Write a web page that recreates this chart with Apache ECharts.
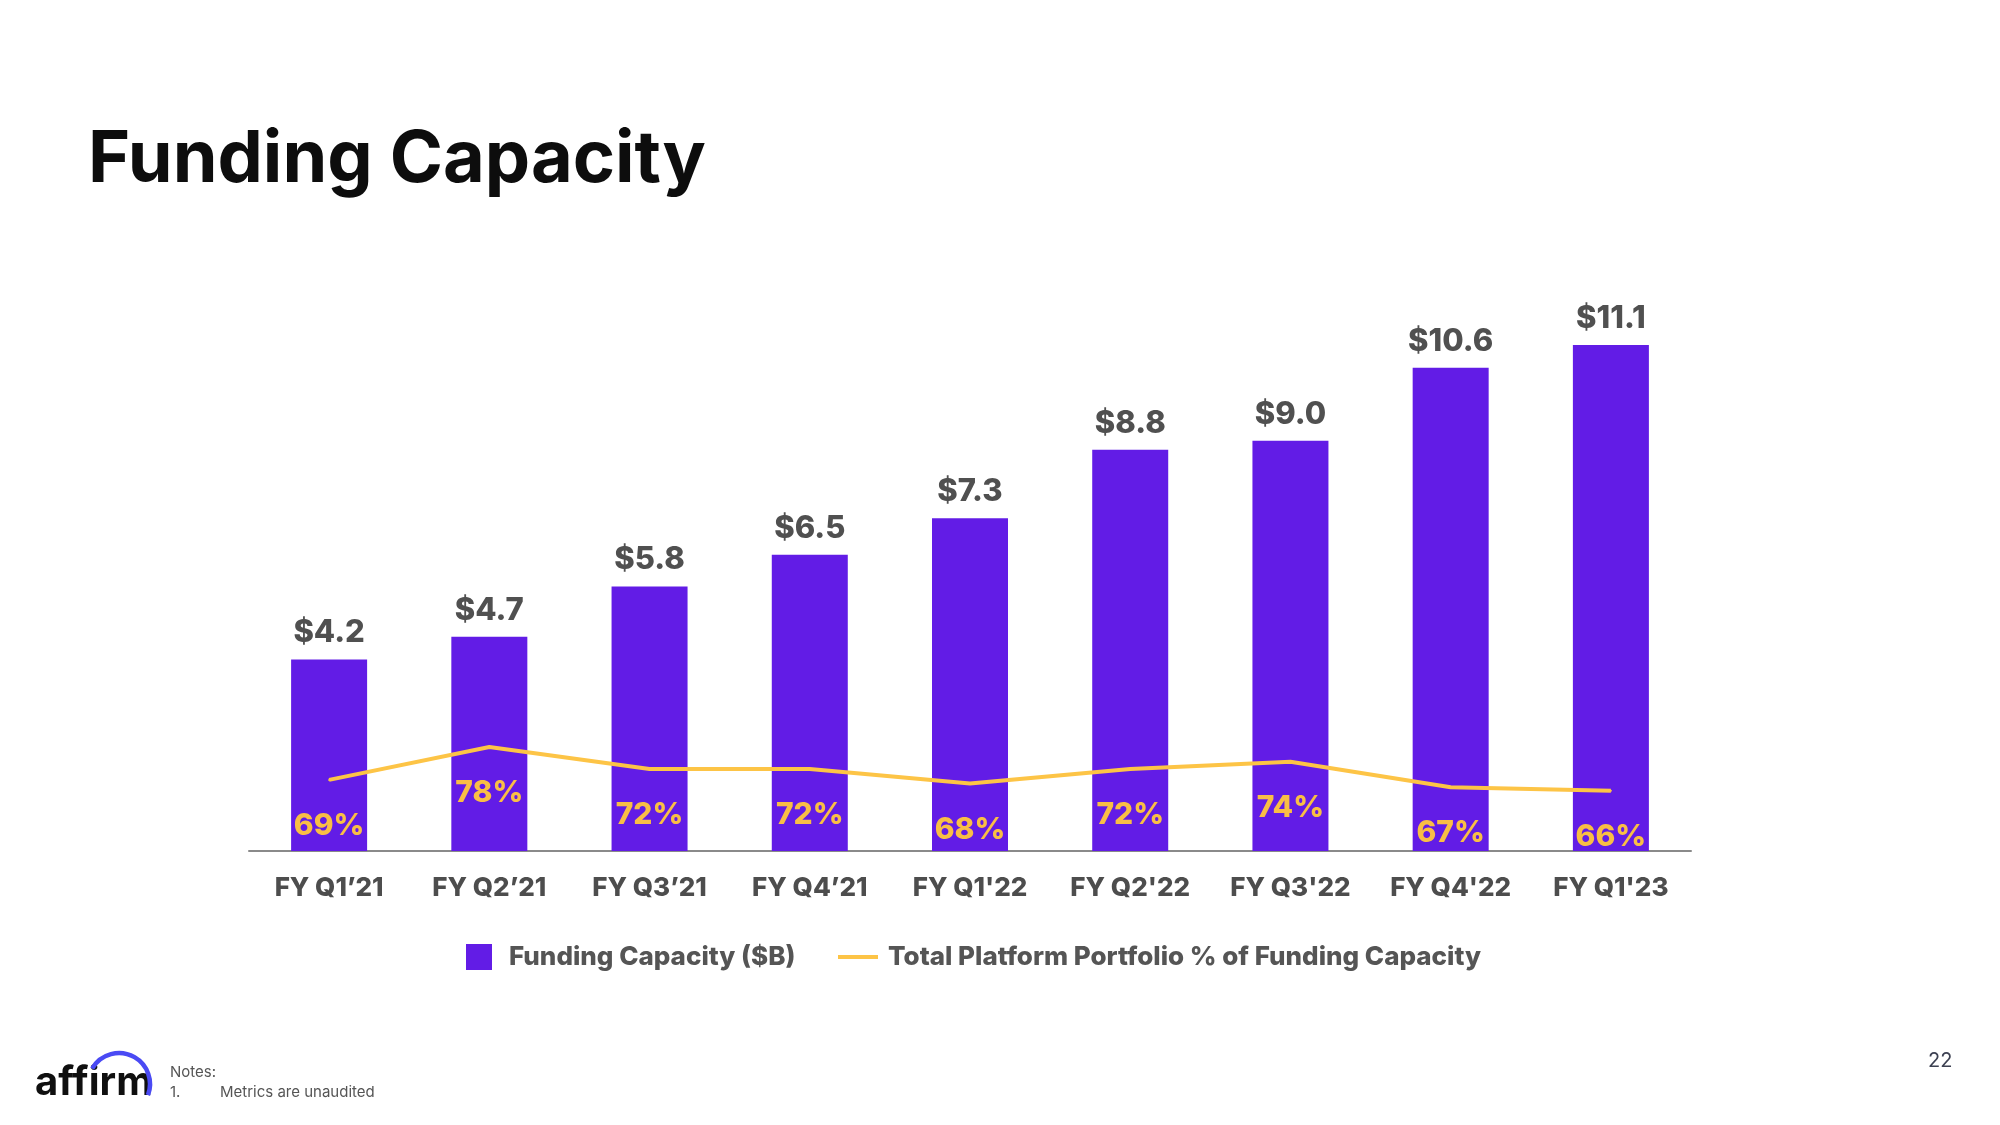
<!DOCTYPE html>
<html>
<head>
<meta charset="utf-8">
<script src="https://cdn.jsdelivr.net/npm/echarts@6/dist/echarts.min.js"></script>
<style>
html,body{margin:0;padding:0;background:#fff;}
#chart{width:2000px;height:1125px;}
</style>
</head>
<body>
<div id="chart"></div>
<script>
const categories = ['FY Q1’21', 'FY Q2’21', 'FY Q3’21', 'FY Q4’21', "FY Q1'22", "FY Q2'22", "FY Q3'22", "FY Q4'22", "FY Q1'23"];
const fundingCapacity = [4.2, 4.7, 5.8, 6.5, 7.3, 8.8, 9.0, 10.6, 11.1];
const portfolioPct = [69, 78, 72, 72, 68, 72, 74, 67, 66];
const seriesNames = ['Funding Capacity ($B)', 'Total Platform Portfolio % of Funding Capacity'];

const FONT = 'Inter';
const chart = echarts.init(document.getElementById('chart'));
chart.setOption({
  backgroundColor: '#ffffff',
  animation: false,
  title: {
    text: 'Funding Capacity',
    left: 88, top: 124, padding: 0,
    textStyle: { fontFamily: FONT, fontSize: 72, fontWeight: 'bold', color: '#0d0d0d' }
  },
  grid: { left: 249, right: 309, top: 304, bottom: 274 },
  legend: [
    {
      data: [seriesNames[0]], left: 466, top: 944, padding: 0,
      icon: 'rect', itemWidth: 26, itemHeight: 26,
      textStyle: { fontFamily: FONT, fontSize: 26, fontWeight: 800, color: '#555555', padding: [0, 0, 0, 12] }
    },
    {
      data: [seriesNames[1]], left: 838, top: 944, padding: 0,
      icon: 'rect', itemWidth: 40, itemHeight: 4,
      textStyle: { fontFamily: FONT, fontSize: 26, fontWeight: 800, color: '#555555', padding: [0, 0, 0, 5] }
    }
  ],
  xAxis: {
    type: 'category', data: categories,
    axisLine: { lineStyle: { color: '#8a8a8a', width: 2 } },
    axisTick: { show: false },
    axisLabel: { interval: 0, hideOverlap: false, margin: 24, fontFamily: FONT, fontSize: 26, fontWeight: 800, color: '#4d4d4d' }
  },
  yAxis: [
    { type: 'value', min: 0, max: 12, show: false },
    { type: 'value', min: 49.5, max: 199.5, show: false }
  ],
  series: [
    {
      name: seriesNames[0], type: 'bar', data: fundingCapacity, barWidth: 76,
      itemStyle: { color: '#621CE6' },
      label: {
        show: true, position: 'top', distance: 11,
        formatter: p => '$' + p.value.toFixed(1),
        fontFamily: FONT, fontSize: 31, fontWeight: 800, color: '#505050'
      }
    },
    {
      name: seriesNames[1], type: 'line', yAxisIndex: 1, data: portfolioPct,
      symbol: 'circle', symbolSize: 2, z: 5,
      itemStyle: { color: '#FDC446' },
      lineStyle: { color: '#FDC446', width: 4 },
      label: {
        show: true, position: 'bottom', distance: 30,
        formatter: '{c}%',
        fontFamily: FONT, fontSize: 30, fontWeight: 800, color: '#F9BE45'
      }
    }
  ],
  graphic: [
    { type: 'text', left: 35, top: 1063, style: { text: 'affirm', font: 'bold 40px ' + FONT, fill: '#0f0f0f' } },
    { type: 'arc', shape: { cx: 119, cy: 1084, r: 31, startAngle: -150 * Math.PI / 180, endAngle: 21 * Math.PI / 180, clockwise: true },
      style: { stroke: '#4A4AF4', lineWidth: 4.5, fill: null } },
    { type: 'text', left: 170, top: 1065, style: { text: 'Notes:', font: '15px ' + FONT, fill: '#555555' } },
    { type: 'text', left: 170, top: 1085, style: { text: '1.', font: '15px ' + FONT, fill: '#555555' } },
    { type: 'text', left: 220, top: 1085, style: { text: 'Metrics are unaudited', font: '15px ' + FONT, fill: '#555555' } },
    { type: 'text', left: 1928, top: 1051, style: { text: '22', font: '20px ' + FONT, fill: '#3d4152' } }
  ]
});
</script>
</body>
</html>
